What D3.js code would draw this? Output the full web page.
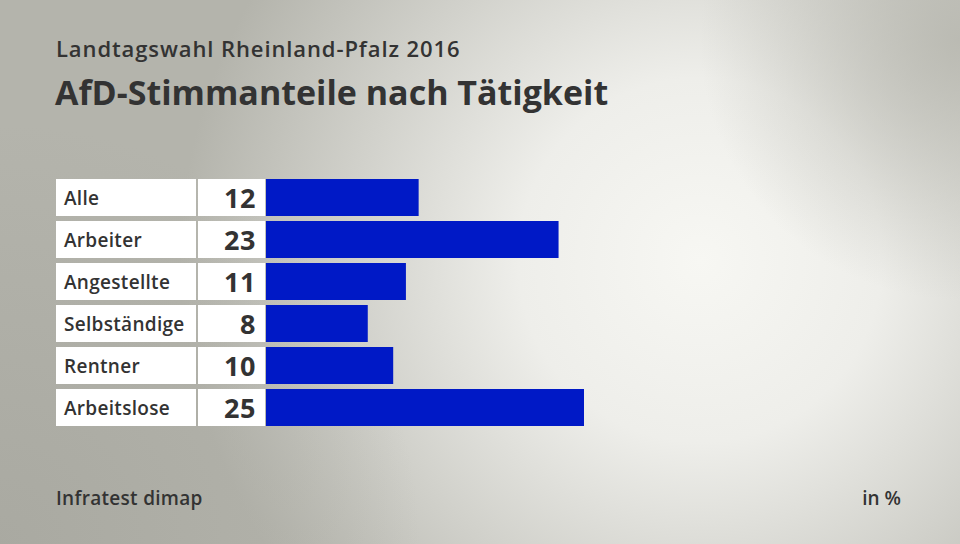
<!DOCTYPE html>
<html><head><meta charset="utf-8">
<script src="https://cdn.jsdelivr.net/npm/d3@7"></script>
<style>html,body{margin:0;padding:0;overflow:hidden;}svg{display:block;}</style>
</head><body>
<script>
const categories = ["Alle","Arbeiter","Angestellte","Selbständige","Rentner","Arbeitslose"];
const values = [12,23,11,8,10,25];
const title = "AfD-Stimmanteile nach Tätigkeit";
const subtitle = "Landtagswahl Rheinland-Pfalz 2016";
const source = "Infratest dimap";
const unit = "in %";

const W=960,H=544;
const svg=d3.select("body").append("svg").attr("width",W).attr("height",H);
const defs=svg.append("defs");
const g1=defs.append("radialGradient").attr("id","bg1").attr("gradientUnits","userSpaceOnUse")
  .attr("cx",700).attr("cy",260).attr("r",520);
g1.append("stop").attr("offset","0").attr("stop-color","#f7f7f3");
g1.append("stop").attr("offset","0.35").attr("stop-color","#eeeeea");
g1.append("stop").attr("offset","1").attr("stop-color","#b4b4ac");
svg.append("rect").attr("width",W).attr("height",H).attr("fill","url(#bg1)");
const g2=defs.append("radialGradient").attr("id","bg2").attr("gradientUnits","userSpaceOnUse")
  .attr("cx",960).attr("cy",40).attr("r",260);
g2.append("stop").attr("offset","0").attr("stop-color","#b8b8b0").attr("stop-opacity",0.9);
g2.append("stop").attr("offset","1").attr("stop-color","#b8b8b0").attr("stop-opacity",0);
svg.append("rect").attr("width",W).attr("height",H).attr("fill","url(#bg2)");
const g3=defs.append("radialGradient").attr("id","bg3").attr("gradientUnits","userSpaceOnUse")
  .attr("cx",0).attr("cy",544).attr("r",420);
g3.append("stop").attr("offset","0").attr("stop-color","#a8a8a0").attr("stop-opacity",0.9);
g3.append("stop").attr("offset","1").attr("stop-color","#a8a8a0").attr("stop-opacity",0);
svg.append("rect").attr("width",W).attr("height",H).attr("fill","url(#bg3)");

const font="'Open Sans', 'DejaVu Sans', sans-serif";
const txt="#333333";
svg.append("text").attr("x",56).attr("y",57).attr("font-family",font).attr("font-weight",600)
  .attr("font-size",22).attr("letter-spacing",0.9).attr("fill",txt).text(subtitle);
svg.append("text").attr("x",55).attr("y",105).attr("font-family",font).attr("font-weight",700)
  .attr("font-size",34).attr("fill",txt).text(title);

const y=d3.scaleBand().domain(categories).range([179,426]).paddingInner(5/42).paddingOuter(0);
const x=d3.scaleLinear().domain([0,25]).range([266,584]);

const rows=svg.append("g").selectAll("g").data(categories).join("g");
rows.append("rect").attr("x",56).attr("y",d=>y(d)).attr("width",140).attr("height",y.bandwidth()).attr("fill","#ffffff");
rows.append("rect").attr("x",198).attr("y",d=>y(d)).attr("width",67).attr("height",y.bandwidth()).attr("fill","#ffffff");
rows.append("rect").attr("x",x(0)).attr("y",d=>y(d)).attr("width",(d,i)=>x(values[i])-x(0)).attr("height",y.bandwidth()).attr("fill","#0019c6");
rows.append("text").attr("x",64).attr("y",d=>y(d)+y.bandwidth()/2+7).attr("font-family",font).attr("font-weight",600)
  .attr("font-size",19).attr("letter-spacing",0.3).attr("fill",txt).text(d=>d);
rows.append("text").attr("x",256).attr("y",d=>y(d)+y.bandwidth()/2+10).attr("text-anchor","end").attr("font-family",font).attr("font-weight",700)
  .attr("font-size",27).attr("letter-spacing",0.5).attr("fill",txt).text((d,i)=>values[i]);

svg.append("text").attr("x",56).attr("y",505).attr("font-family",font).attr("font-weight",600)
  .attr("font-size",19).attr("letter-spacing",0.3).attr("fill",txt).text(source);
svg.append("text").attr("x",901).attr("y",505).attr("text-anchor","end").attr("font-family",font).attr("font-weight",600)
  .attr("font-size",19).attr("fill",txt).text(unit);
</script>
</body></html>
